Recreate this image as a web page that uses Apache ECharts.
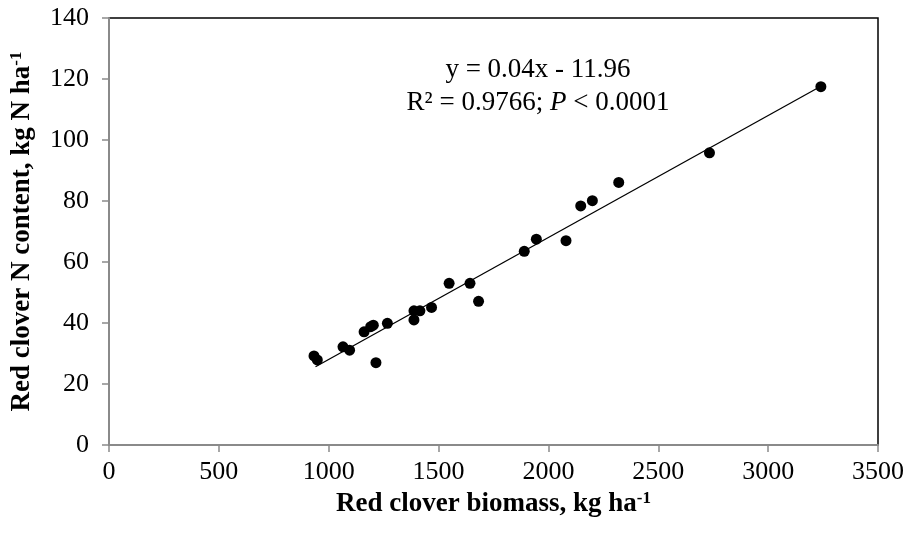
<!DOCTYPE html>
<html>
<head>
<meta charset="utf-8">
<script src="https://cdn.jsdelivr.net/npm/echarts@6/dist/echarts.min.js"></script>
<style>
  html, body {margin: 0; padding: 0; background: #fff;}
  #chart {width: 910px; height: 538px;}
</style>
</head>
<body>
<div id="chart"></div>
<script>
// biomass (kg/ha) and N content (kg N/ha)
const biomass = [933, 948, 1065, 1095, 1161, 1191, 1203, 1215, 1267, 1388, 1388, 1415, 1468,
  1548, 1643, 1682, 1890, 1945, 2080, 2147, 2200, 2320, 2733, 3240];
const nContent = [29.2, 27.9, 32.2, 31.1, 37.1, 38.8, 39.3, 27.0, 39.9, 44.0, 41.0, 44.0, 45.1,
  53.0, 53.0, 47.1, 63.5, 67.5, 67.0, 78.4, 80.1, 86.1, 95.8, 117.5];

// linear fit shown on the chart
const slope = 0.04;
const intercept = -11.96;
const trendX = [940, 3240];

const xTicks = [0, 500, 1000, 1500, 2000, 2500, 3000, 3500];
const yTicks = [0, 20, 40, 60, 80, 100, 120, 140];

const points = biomass.map((b, i) => [b, nContent[i]]);
const trend = trendX.map(x => [x, slope * x + intercept]);

const font = '"Liberation Serif", "Times New Roman", serif';
const fs = 26;

const titleRich = {
  b: {fontFamily: font, fontSize: 27, fontWeight: 'bold', color: '#000'},
  s: {fontFamily: font, fontSize: 17, fontWeight: 'bold', color: '#000', verticalAlign: 'top', padding: [0, 0, 12, 0]}
};

const chart = echarts.init(document.getElementById('chart'));
chart.setOption({
  animation: false,
  textStyle: {fontFamily: font},
  grid: {
    left: 108, right: 32, top: 18, bottom: 93,
    show: true, borderColor: '#000', borderWidth: 1.5
  },
  xAxis: {
    type: 'value',
    min: xTicks[0], max: xTicks[xTicks.length - 1], interval: 500,
    splitLine: {show: false},
    axisLine: {lineStyle: {color: '#8a8a8a', width: 2}},
    axisTick: {show: true, length: 7, lineStyle: {color: '#8a8a8a', width: 1.5}},
    axisLabel: {color: '#000', fontSize: fs, fontFamily: font, margin: 14, formatter: v => String(v)},
    name: '{b|Red clover biomass, kg ha}{s|-1}',
    nameLocation: 'middle',
    nameGap: 38,
    nameTextStyle: {rich: titleRich}
  },
  yAxis: {
    type: 'value',
    min: yTicks[0], max: yTicks[yTicks.length - 1], interval: 20,
    splitLine: {show: false},
    axisLine: {show: true, lineStyle: {color: '#8a8a8a', width: 2}},
    axisTick: {show: true, length: 7, lineStyle: {color: '#8a8a8a', width: 1.5}},
    axisLabel: {color: '#000', fontSize: fs, fontFamily: font, margin: 20},
    name: '{b|Red clover N content, kg N ha}{s|-1}',
    nameLocation: 'middle',
    nameGap: 72,
    nameTextStyle: {rich: titleRich}
  },
  series: [
    {
      type: 'line',
      data: trend,
      symbol: 'none',
      lineStyle: {color: '#000', width: 1.3},
      z: 2
    },
    {
      type: 'scatter',
      data: points,
      symbol: 'circle',
      symbolSize: 11,
      itemStyle: {color: '#000', opacity: 1},
      z: 3
    }
  ],
  graphic: [
    {
      type: 'text',
      x: 538, y: 56,
      style: {text: 'y = 0.04x - 11.96', font: '27px ' + font, fill: '#000', align: 'center'}
    },
    {
      type: 'text',
      x: 538, y: 89,
      style: {
        text: '{n|R² = 0.9766; }{i|P}{n| < 0.0001}',
        align: 'center',
        rich: {
          n: {fontFamily: font, fontSize: 27, fill: '#000'},
          i: {fontFamily: font, fontSize: 27, fontStyle: 'italic', fill: '#000'}
        }
      }
    }
  ]
});
</script>
</body>
</html>
